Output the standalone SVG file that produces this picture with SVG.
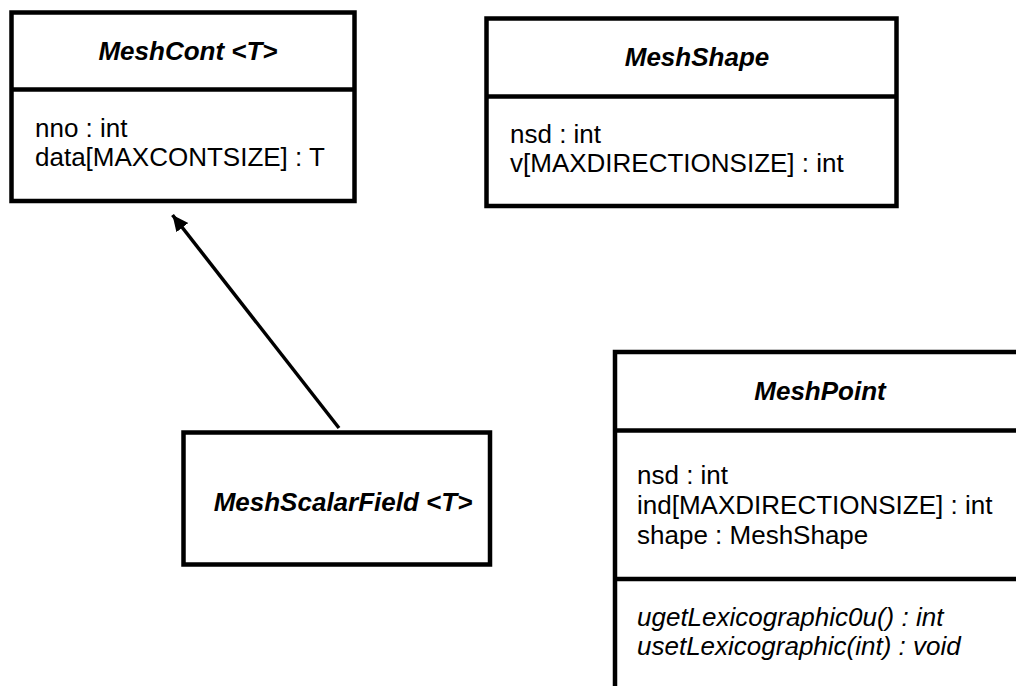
<svg xmlns="http://www.w3.org/2000/svg" width="1016" height="686" viewBox="0 0 1016 686">
<style>
.box{fill:#fff;stroke:#000;stroke-width:4.5}
.div{stroke:#000;stroke-width:4.5}
text{font-family:"Liberation Sans",Arial,sans-serif;font-size:26px;fill:#000}
.title{font-weight:bold;font-style:italic;text-anchor:middle}
.op{font-style:italic}
.conn{stroke:#000;stroke-width:3.5;fill:none}
</style>
<defs>
<marker id="arrow" markerUnits="userSpaceOnUse" markerWidth="18" markerHeight="16" refX="16" refY="7.5" orient="auto">
<path d="M0,0 L16,7.5 L0,15 z" fill="#000"/>
</marker>
</defs>
<rect width="1016" height="686" fill="#fff"/>
<g id="connectors">
<line class="conn" x1="339" y1="428" x2="172.5" y2="215" marker-end="url(#arrow)"/>
</g>
<g id="MeshCont">
<rect class="box" x="11.5" y="12.5" width="343" height="188.5"/>
<line class="div" x1="11.5" y1="89.5" x2="354.5" y2="89.5"/>
<text class="title" x="188" y="60">MeshCont &lt;T&gt;</text>
<text x="35" y="137">nno : int</text>
<text x="35" y="166">data[MAXCONTSIZE] : T</text>
</g>
<g id="MeshShape">
<rect class="box" x="486.5" y="18.5" width="410" height="187.5"/>
<line class="div" x1="486.5" y1="96.5" x2="896.5" y2="96.5"/>
<text class="title" x="697" y="66">MeshShape</text>
<text x="510" y="143">nsd : int</text>
<text x="510" y="172">v[MAXDIRECTIONSIZE] : int</text>
</g>
<g id="MeshPoint">
<rect class="box" x="615" y="352" width="405" height="345"/>
<line class="div" x1="615" y1="430.5" x2="1020" y2="430.5"/>
<line class="div" x1="615" y1="579" x2="1020" y2="579"/>
<text class="title" x="820" y="400">MeshPoint</text>
<text x="637" y="484">nsd : int</text>
<text x="637" y="514">ind[MAXDIRECTIONSIZE] : int</text>
<text x="637" y="544">shape : MeshShape</text>
<text class="op" x="637" y="626">ugetLexicographic0u() : int</text>
<text class="op" x="637" y="655">usetLexicographic(int) : void</text>
</g>
<g id="MeshScalarField">
<rect class="box" x="183.5" y="432.5" width="306.5" height="132"/>
<text class="title" x="343" y="511">MeshScalarField &lt;T&gt;</text>
</g>
</svg>
